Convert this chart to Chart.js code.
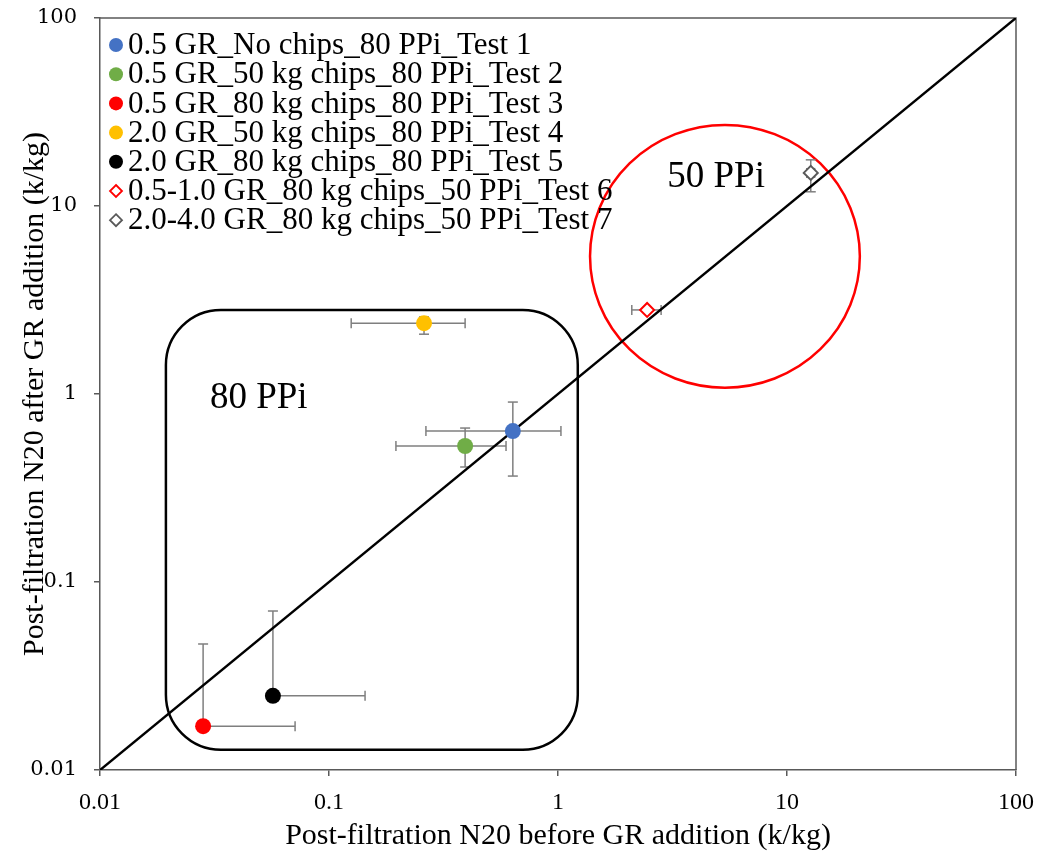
<!DOCTYPE html>
<html>
<head>
<meta charset="utf-8">
<script src="https://cdn.jsdelivr.net/npm/chart.js@4.4.1/dist/chart.umd.min.js"></script>
<style>
  html, body { margin: 0; padding: 0; background: #fff; }
  #wrap { width: 1041px; height: 856px; }
</style>
</head>
<body>
<div id="wrap"><canvas id="grafico"></canvas></div>
<script>
// series
const seriesLabels = [
  '0.5 GR_No chips_80 PPi_Test 1',
  '0.5 GR_50 kg chips_80 PPi_Test 2',
  '0.5 GR_80 kg chips_80 PPi_Test 3',
  '2.0 GR_50 kg chips_80 PPi_Test 4',
  '2.0 GR_80 kg chips_80 PPi_Test 5',
  '0.5-1.0 GR_80 kg chips_50 PPi_Test 6',
  '2.0-4.0 GR_80 kg chips_50 PPi_Test 7'
];
const xValues = [0.635, 0.393, 0.0282, 0.26, 0.0569, 2.45, 12.7];
const yValues = [0.635, 0.529, 0.0171, 2.38, 0.0248, 2.80, 15.0];
const xErrLow = [0.265, 0.196, 0.0282, 0.125, 0.0569, 2.10, 12.2];
const xErrHigh = [1.03, 0.593, 0.0711, 0.393, 0.1437, 2.82, 13.2];
const yErrLow = [0.366, 0.409, 0.0171, 2.08, 0.0248, 2.80, 11.9];
const yErrHigh = [0.906, 0.659, 0.0468, 2.57, 0.0701, 2.80, 17.6];
const tickValues = [0.01, 0.1, 1, 10, 100];
const tickLabels = ['0.01', '0.1', '1', '10', '100'];
const diagonal = [0.01, 100];

// annotation shapes, in data units
const box80 = { xMin: 0.0194, xMax: 1.22, yMin: 0.0128, yMax: 2.8, text: '80 PPi', tx: 0.0302, ty: 0.95 };
const ring50 = { xMin: 1.38, xMax: 20.8, yMin: 1.08, yMax: 27, text: '50 PPi', tx: 3.0, ty: 14.3 };

const fillColors = ['#4472C4', '#70AD47', '#FF0000', '#FFC000', '#000000', '#FFFFFF', '#FFFFFF'];
const edgeColors = ['#4472C4', '#70AD47', '#FF0000', '#FFC000', '#000000', '#FF0000', '#595959'];
const markers = ['circle', 'circle', 'circle', 'circle', 'circle', 'rectRot', 'rectRot'];

const datasets = seriesLabels.map((lab, i) => ({
  type: 'scatter',
  label: lab,
  data: [{ x: xValues[i], y: yValues[i] }],
  pointStyle: markers[i],
  pointRadius: markers[i] === 'circle' ? 8 : 7,
  pointBackgroundColor: fillColors[i],
  pointBorderColor: edgeColors[i],
  pointBorderWidth: markers[i] === 'circle' ? 0 : 2,
  order: 0
}));
datasets.push({
  type: 'line',
  label: 'y = x',
  data: diagonal.map(v => ({ x: v, y: v })),
  borderColor: '#000',
  borderWidth: 2.5,
  pointRadius: 0,
  order: 10
});

const serif = '"Liberation Serif", "Times New Roman", serif';

const extras = {
  id: 'extras',
  beforeDatasetsDraw(chart) {
    const { ctx, chartArea: a, scales: { x, y } } = chart;
    ctx.save();
    // box border on top and right
    ctx.strokeStyle = '#595959';
    ctx.lineWidth = 1.5;
    ctx.beginPath();
    ctx.moveTo(a.left, a.top); ctx.lineTo(a.right, a.top); ctx.lineTo(a.right, a.bottom);
    ctx.stroke();

    // rounded rectangle (80 PPi)
    const l = x.getPixelForValue(box80.xMin), r = x.getPixelForValue(box80.xMax);
    const t = y.getPixelForValue(box80.yMax), b = y.getPixelForValue(box80.yMin);
    ctx.strokeStyle = '#000';
    ctx.lineWidth = 2.5;
    ctx.beginPath();
    ctx.roundRect(l, t, r - l, b - t, 55);
    ctx.stroke();

    // circle (50 PPi)
    const cl = x.getPixelForValue(ring50.xMin), cr = x.getPixelForValue(ring50.xMax);
    const ct = y.getPixelForValue(ring50.yMax), cb = y.getPixelForValue(ring50.yMin);
    ctx.strokeStyle = '#FF0000';
    ctx.beginPath();
    ctx.ellipse((cl + cr) / 2, (ct + cb) / 2, (cr - cl) / 2, (cb - ct) / 2, 0, 0, Math.PI * 2);
    ctx.stroke();

    ctx.fillStyle = '#000';
    ctx.font = '37px ' + serif;
    ctx.textAlign = 'left';
    ctx.textBaseline = 'middle';
    ctx.fillText(box80.text, x.getPixelForValue(box80.tx), y.getPixelForValue(box80.ty));
    ctx.fillText(ring50.text, x.getPixelForValue(ring50.tx), y.getPixelForValue(ring50.ty));

    // error bars
    ctx.strokeStyle = '#7F7F7F';
    ctx.lineWidth = 1.5;
    const cap = 5;
    const seg = (x1, y1, x2, y2) => { ctx.beginPath(); ctx.moveTo(x1, y1); ctx.lineTo(x2, y2); ctx.stroke(); };
    for (let i = 0; i < xValues.length; i++) {
      const px = x.getPixelForValue(xValues[i]), py = y.getPixelForValue(yValues[i]);
      const x0 = x.getPixelForValue(xErrLow[i]), x1 = x.getPixelForValue(xErrHigh[i]);
      const y0 = y.getPixelForValue(yErrLow[i]), y1 = y.getPixelForValue(yErrHigh[i]);
      if (Math.abs(x0 - px) > 1) { seg(x0, py, px, py); seg(x0, py - cap, x0, py + cap); }
      if (Math.abs(x1 - px) > 1) { seg(px, py, x1, py); seg(x1, py - cap, x1, py + cap); }
      if (Math.abs(y0 - py) > 1) { seg(px, py, px, y0); seg(px - cap, y0, px + cap, y0); }
      if (Math.abs(y1 - py) > 1) { seg(px, py, px, y1); seg(px - cap, y1, px + cap, y1); }
    }
    ctx.restore();
  },
  afterDatasetsDraw(chart) {
    // legend inside the plot, top left
    const { ctx, chartArea: a } = chart;
    ctx.save();
    ctx.font = '31px ' + serif;
    ctx.textBaseline = 'middle';
    ctx.textAlign = 'left';
    seriesLabels.forEach((lab, i) => {
      const cy = a.top + 27 + i * 29.2;
      const mx = a.left + 16;
      ctx.beginPath();
      if (markers[i] === 'circle') {
        ctx.arc(mx, cy, 7, 0, Math.PI * 2);
        ctx.fillStyle = fillColors[i];
        ctx.fill();
      } else {
        ctx.moveTo(mx, cy - 6); ctx.lineTo(mx + 6, cy); ctx.lineTo(mx, cy + 6); ctx.lineTo(mx - 6, cy); ctx.closePath();
        ctx.fillStyle = '#fff';
        ctx.fill();
        ctx.strokeStyle = edgeColors[i];
        ctx.lineWidth = 1.8;
        ctx.stroke();
      }
      ctx.fillStyle = '#000';
      ctx.fillText(lab, a.left + 28, cy + 1);
    });
    ctx.restore();
  }
};

const fixTicks = s => { s.ticks = tickValues.map(v => ({ value: v })); };

new Chart(document.getElementById('grafico'), {
  data: { datasets },
  plugins: [extras],
  options: {
    responsive: true,
    maintainAspectRatio: false,
    animation: false,
    layout: { padding: { top: 18, right: 25, left: 0, bottom: 0 } },
    plugins: { legend: { display: false }, tooltip: { enabled: false } },
    scales: {
      x: {
        type: 'logarithmic',
        min: 0.01,
        max: 100,
        afterBuildTicks: fixTicks,
        afterFit: s => { s.height = 86; s.paddingLeft = 0; s.paddingRight = 0; },
        grid: { drawOnChartArea: false, drawTicks: true, tickLength: 6, color: '#595959', lineWidth: 1.5 },
        border: { display: true, color: '#595959', width: 1.5 },
        ticks: {
          autoSkip: false, maxRotation: 0, padding: 12, color: '#000',
          font: { family: serif, size: 24 },
          callback: (v) => tickLabels[tickValues.indexOf(v)] ?? ''
        },
        title: {
          display: true, text: 'Post-filtration N20 before GR addition (k/kg)', color: '#000',
          font: { family: serif, size: 30 }, padding: { top: 0, bottom: 2 }
        }
      },
      y: {
        type: 'logarithmic',
        min: 0.01,
        max: 100,
        afterBuildTicks: fixTicks,
        afterFit: s => { s.width = 100; s.paddingTop = 0; s.paddingBottom = 0; },
        grid: { drawOnChartArea: false, drawTicks: true, tickLength: 6, color: '#595959', lineWidth: 1.5 },
        border: { display: true, color: '#595959', width: 1.5 },
        ticks: {
          autoSkip: false, padding: 17, color: '#000',
          font: { family: '"DejaVu Serif", serif', size: 21 },
          callback: (v) => tickLabels[tickValues.indexOf(v)] ?? ''
        },
        title: {
          display: true, text: 'Post-filtration N20 after GR addition (k/kg)', color: '#000',
          font: { family: serif, size: 30 }, padding: { top: 17, bottom: 0 }
        }
      }
    }
  }
});
</script>
</body>
</html>
